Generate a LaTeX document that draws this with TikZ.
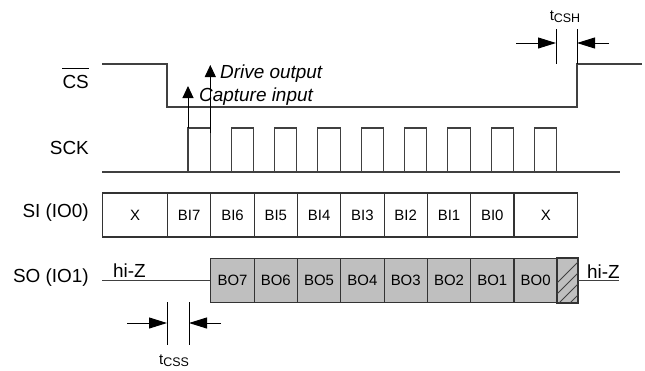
\documentclass[tikz,border=0pt]{standalone}
\usepackage{fontspec}
\setmainfont{Liberation Sans}
\usetikzlibrary{arrows.meta}
\begin{document}
\begin{tikzpicture}[x=1bp,y=-1bp,
  wave/.style={draw=black!75, line width=1.1bp},
  lbl/.style={font=\fontsize{19}{22}\selectfont, anchor=base east, inner sep=0},
  note/.style={font=\fontsize{19}{22}\selectfont\itshape, anchor=base west, inner sep=0},
  hiz/.style={font=\fontsize{19}{22}\selectfont, anchor=base west, inner sep=0},
  cell/.style={draw=black!80, line width=1.1bp, minimum height=44bp, inner sep=0,
    font=\fontsize{15}{17}\selectfont, anchor=west},
  ocell/.style={cell, fill=black!25},
  tick/.style={draw=black, line width=1bp},
  harrow/.style={-{Triangle[length=18bp,width=11bp]}, black, line width=1bp},
  varrow/.style={-{Triangle[length=12bp,width=11bp]}, black, line width=1bp},
  tlbl/.style={anchor=base, inner sep=0},
]
\useasboundingbox (0,0) rectangle (645,370);

% signal labels
\node[lbl] (cs) at (89,88) {CS};
\draw[line width=1bp] ([yshift=6bp]cs.north west) -- ([yshift=6bp]cs.north east);
\node[lbl] (sck) at (89,154) {SCK};
\node[lbl] (si) at (89,217) {SI (IO0)};
\node[lbl] (so) at (89,282) {SO (IO1)};

% CS waveform
\draw[wave] (102,64) -- (167,64) -- (167,107) -- (577,107) -- (577,64) -- (642,64);

% SCK waveform
\draw[wave] (102,172) -- (620,172);
\foreach \k in {0,...,8}
  \draw[wave] ({188+43.3*\k},172) |- ({210.3+43.3*\k},128) -- ({210.3+43.3*\k},172);

% capture / drive arrows
\coordinate (capA) at (188,128);
\coordinate (capB) at (188,86);
\coordinate (drvA) at (210.3,133);
\coordinate (drvB) at (210.3,65);
\draw[varrow] (capA) -- (capB);
\draw[varrow] (drvA) -- (drvB);
\node[note] (drvt) at (220,78) {Drive output};
\node[note] (capt) at (199,101) {Capture input};

% SI cells
\node[cell, minimum width=65bp] (six0) at (102,215) {X};
\foreach \k/\t in {0/BI7,1/BI6,2/BI5,3/BI4,4/BI3,5/BI2,6/BI1,7/BI0}
  \node[cell, minimum width=43.3bp] (si\k) at ({167+43.3*\k},215) {\t};
\node[cell, minimum width=63.6bp] (six1) at (513.4,215) {X};

% SO cells
\foreach \k/\t in {0/BO7,1/BO6,2/BO5,3/BO4,4/BO3,5/BO2,6/BO1,7/BO0}
  \node[ocell, minimum width=43.3bp] (so\k) at ({210.3+43.3*\k},280.5) {\t};
\node[ocell, minimum width=20.3bp] (hz) at (556.7,280.5) {};
\begin{scope}
  \clip (hz.south west) rectangle (hz.north east);
  \foreach \i in {0,...,6}
    \draw[black!75, line width=1bp] ({534+\i*11},306) -- ++(50,-50);
\end{scope}
\draw[cell] (hz.south west) rectangle (hz.north east);

% hi-Z lines
\coordinate (hzl) at (102,280.5);
\coordinate (hzr) at (619,280.5);
\draw[wave] (hzl) -- (so0.west);
\draw[wave] (hz.east) -- (hzr);
\node[hiz] (hiz1) at (113,277) {hi-Z};
\node[hiz] (hiz2) at (587,278) {hi-Z};

% tCSS
\coordinate (s1a) at (167,302); \coordinate (s1b) at (167,345);
\coordinate (s2a) at (189,302); \coordinate (s2b) at (189,345);
\draw[tick] (s1a) -- (s1b);
\draw[tick] (s2a) -- (s2b);
\coordinate (sl) at (127,323); \coordinate (sr) at (221,323);
\draw[harrow] (sl) -- (s1a |- sl);
\draw[harrow] (sr) -- (s2a |- sr);
\node[tlbl] (tcss) at (174,364) {\fontsize{15}{16}\selectfont t\raisebox{-2bp}{\fontsize{12.5}{14}\selectfont CSS}};

% tCSH
\coordinate (h1a) at (556,29); \coordinate (h1b) at (556,64);
\coordinate (h2a) at (577,29); \coordinate (h2b) at (577,64);
\draw[tick] (h1a) -- (h1b);
\draw[tick] (h2a) -- (h2b);
\coordinate (hl) at (516,43); \coordinate (hr) at (609,43);
\draw[harrow] (hl) -- (h1a |- hl);
\draw[harrow] (hr) -- (h2a |- hr);
\node[tlbl] (tcsh) at (565,20) {\fontsize{15}{16}\selectfont t\raisebox{-2bp}{\fontsize{12.5}{14}\selectfont CSH}};
\end{tikzpicture}
\end{document}
